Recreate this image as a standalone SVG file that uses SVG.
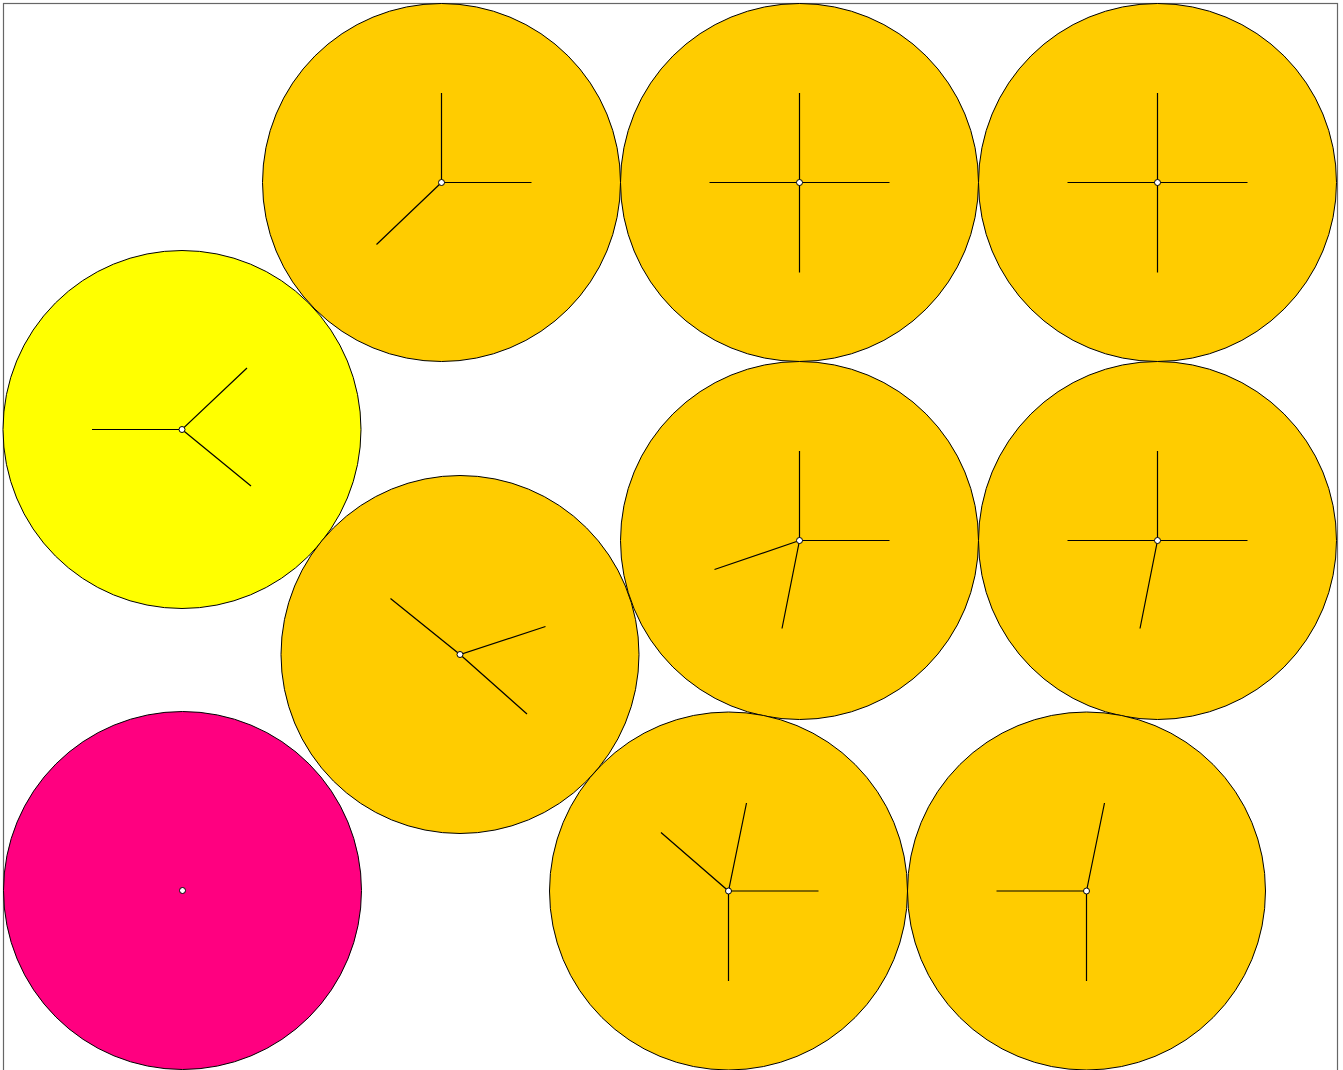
<svg xmlns="http://www.w3.org/2000/svg" width="1343" height="1070" viewBox="0 0 1343 1070">
<style>
.n{stroke:#000;stroke-width:1}
.o{fill:#ffcc00}
.y{fill:#ffff00}
.m{fill:#ff0080}
.h{stroke:#000;stroke-width:1.2;fill:none}
.d{fill:#fff;stroke:#000;stroke-width:1}
</style>
<rect x="3.5" y="3.5" width="1334" height="1080" fill="#fff" stroke="#666" stroke-width="1.2"/>
<g id="node1"><circle class="n o" cx="441.5" cy="182.5" r="179"/></g>
<g id="node2"><circle class="n o" cx="799.5" cy="182.5" r="179"/></g>
<g id="node3"><circle class="n o" cx="1157.5" cy="182.5" r="179"/></g>
<g id="node4"><circle class="n y" cx="182" cy="429.5" r="179"/></g>
<g id="node5"><circle class="n o" cx="460" cy="654.5" r="179"/></g>
<g id="node6"><circle class="n o" cx="799.5" cy="540.5" r="179"/></g>
<g id="node7"><circle class="n o" cx="1157.5" cy="540.5" r="179"/></g>
<g id="node8"><circle class="n m" cx="182.5" cy="890.5" r="179"/></g>
<g id="node9"><circle class="n o" cx="728.5" cy="891" r="179"/></g>
<g id="node10"><circle class="n o" cx="1086.5" cy="891" r="179"/></g>
<g id="connectors">
<path class="h" d="M441.5,93V182.5H531.5M441.5,182.5L376.5,244.5"/>
<path class="h" d="M799.5,93V272.5M709.5,182.5H889.5"/>
<path class="h" d="M1157.5,93V272.5M1067.5,182.5H1247.5"/>
<path class="h" d="M92,429.5H182L247,368M182,429.5L251,486"/>
<path class="h" d="M390.5,598.5L460,654.5L545.5,626.5M460,654.5L527,714"/>
<path class="h" d="M799.5,451V540.5H889.5M799.5,540.5L714.5,569.5M799.5,540.5L782,628.5"/>
<path class="h" d="M1157.5,451V540.5M1067.5,540.5H1247.5M1157.5,540.5L1140,628.5"/>
<path class="h" d="M661,832.5L728.5,891L746.5,803M728.5,891H818.5M728.5,891V981"/>
<path class="h" d="M1104.5,803L1086.5,891H996.5M1086.5,891V981"/>
</g>
<g id="dots">
<circle class="d" cx="441.5" cy="182.5" r="3"/>
<circle class="d" cx="799.5" cy="182.5" r="3"/>
<circle class="d" cx="1157.5" cy="182.5" r="3"/>
<circle class="d" cx="182" cy="429.5" r="3"/>
<circle class="d" cx="460" cy="654.5" r="3"/>
<circle class="d" cx="799.5" cy="540.5" r="3"/>
<circle class="d" cx="1157.5" cy="540.5" r="3"/>
<circle class="d" cx="182.5" cy="890.5" r="3"/>
<circle class="d" cx="728.5" cy="891" r="3"/>
<circle class="d" cx="1086.5" cy="891" r="3"/>
</g>
</svg>
